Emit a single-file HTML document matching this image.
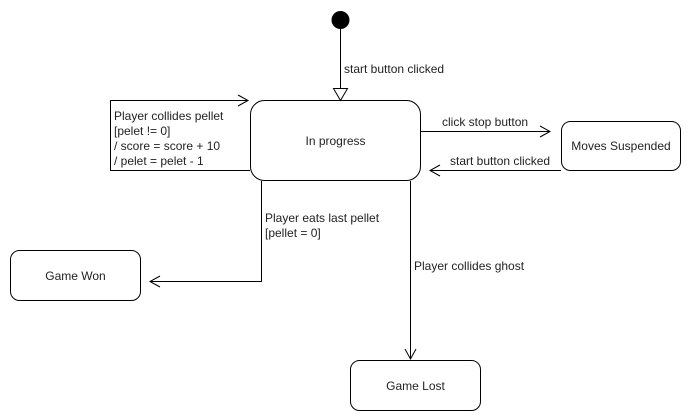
<!DOCTYPE html>
<html><head><style>body{margin:0;background:#fff}</style></head><body>
<svg width="690" height="420" xmlns="http://www.w3.org/2000/svg" style="display:block;font-family:'Liberation Sans',sans-serif;font-size:12px">
<rect width="690" height="420" fill="#fff"/>
<g fill="none" stroke="#000" stroke-width="1">
<rect x="250.5" y="100.5" width="170" height="80" rx="14"/>
<rect x="561.5" y="121.5" width="119" height="49" rx="9"/>
<rect x="10.5" y="250.5" width="130" height="50" rx="9"/>
<rect x="350.5" y="360.5" width="130" height="50" rx="9"/>
<path d="M340.5 29V88"/>
<path d="M333.5 88.5H347.5L340.5 100.5Z" fill="#fff"/>
<path d="M250 170.5H110.5V100.5H248"/>
<path d="M238 95L248 100.5L238 106"/>
<path d="M421 131.5H550"/>
<path d="M540 126L550 131.5L540 137"/>
<path d="M561 170.5H430"/>
<path d="M440 165L430 170.5L440 176"/>
<path d="M261.5 181V281.5H150"/>
<path d="M160 276L150 281.5L160 287"/>
<path d="M410.5 181V359"/>
<path d="M405 349L410.5 359L416 349"/>
</g>
<circle cx="340.5" cy="20" r="9"/>
<g fill="#222">
<text x="344" y="73">start button clicked</text>
<text x="114" y="120">Player collides pellet</text>
<text x="114" y="135">[pelet != 0]</text>
<text x="114" y="150">/ score = score + 10</text>
<text x="114" y="165">/ pelet = pelet - 1</text>
<text x="335.5" y="145" text-anchor="middle">In progress</text>
<text x="442" y="126">click stop button</text>
<text x="450" y="165">start button clicked</text>
<text x="621" y="150" text-anchor="middle">Moves Suspended</text>
<text x="265" y="222">Player eats last pellet</text>
<text x="265" y="237">[pellet = 0]</text>
<text x="75.5" y="280" text-anchor="middle">Game Won</text>
<text x="414" y="270">Player collides ghost</text>
<text x="415.5" y="390" text-anchor="middle">Game Lost</text>
</g>
</svg>
</body></html>
